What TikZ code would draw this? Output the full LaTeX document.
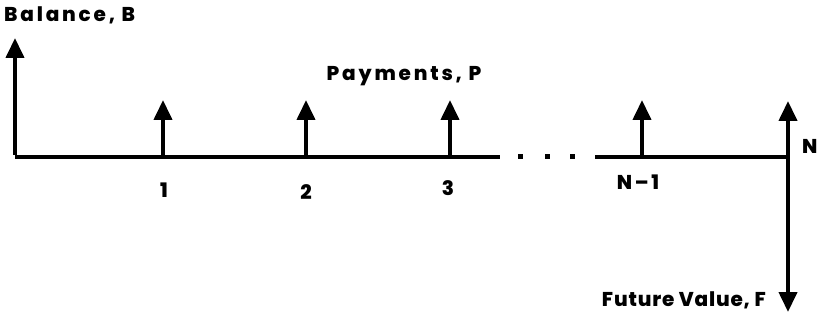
\documentclass[tikz,border=0pt]{standalone}
\usepackage{fontspec}
\setmainfont{Poppins}[LetterSpace=14,BoldFont={Poppins ExtraBold}]
\usetikzlibrary{arrows.meta}
\tikzset{
  axisline/.style={line width=4pt},
  flow/.style={line width=4pt,-{Triangle[width=18pt,length=20pt]}},
  lbl/.style={font=\bfseries\fontsize{20}{24}\selectfont,inner sep=0pt},
  dotmark/.style={fill=black,minimum size=5pt,inner sep=0pt,rectangle}
}
\begin{document}
\begin{tikzpicture}[x=1pt,y=-1pt]
\useasboundingbox (0,0) rectangle (821,320);
% axis points
\coordinate (o) at (15,157);
\coordinate (btop) at (15,38);
\coordinate (t1) at (163,157);
\coordinate (t2) at (306,157);
\coordinate (t3) at (450,157);
\coordinate (le) at (500,157);
\coordinate (rs) at (595,157);
\coordinate (tn1) at (642,157);
\coordinate (tn) at (788,157);
\coordinate (p1) at (163,100);
\coordinate (p2) at (306,100);
\coordinate (p3) at (450,100);
\coordinate (pn1) at (642,100);
\coordinate (pn) at (788,101);
\coordinate (fv) at (788,312);
% lines
\draw[axisline] (o) -- (le);
\draw[axisline] (rs) -- (tn);
\draw[flow] ([yshift=2pt]o) -- (btop);
\draw[flow] (t1) -- (p1);
\draw[flow] (t2) -- (p2);
\draw[flow] (t3) -- (p3);
\draw[flow] (tn1) -- (pn1);
\draw[flow] (tn) -- (pn);
\draw[flow] (tn) -- (fv);
% dots
\node[dotmark] (d1) at (520,157) {};
\node[dotmark] (d2) at (547,157) {};
\node[dotmark] (d3) at (572,157) {};
% labels
\node[lbl,anchor=west] (bal) at (4,15) {Balance, B};
\node[lbl] (pay) at (404,76) {Payments, P};
\node[lbl] (n1) at (164,190) {1};
\node[lbl] (n2) at (306,192) {2};
\node[lbl] (n3) at (448,188) {3};
\node[lbl] (nm1) at (638,182) {N–1};
\node[lbl,anchor=west] (nn) at (802,146) {N};
\node[lbl,anchor=east] (fut) at (766,300) {\addfontfeature{LetterSpace=4}Future Value, F};
\end{tikzpicture}
\end{document}
